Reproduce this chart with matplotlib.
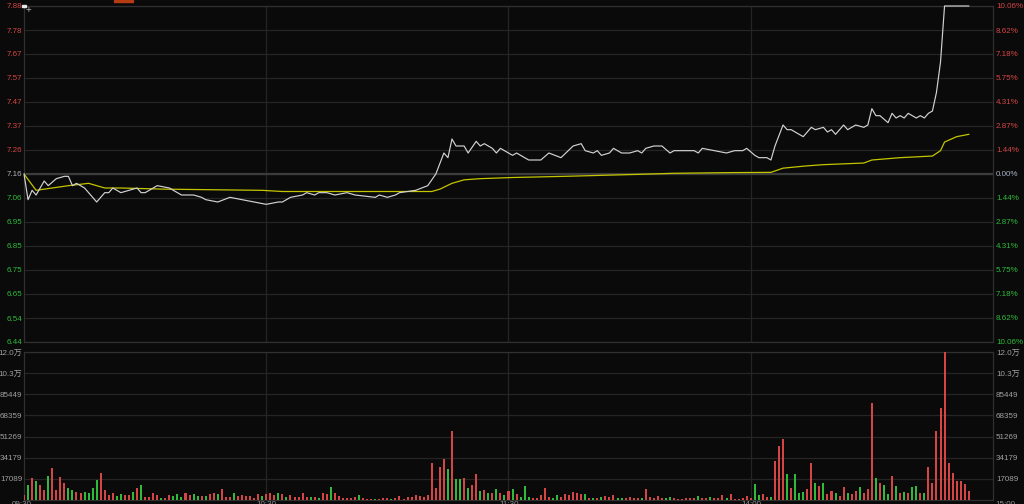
import matplotlib
matplotlib.use("Agg")
import matplotlib.pyplot as plt
from matplotlib.patches import Rectangle
import numpy as np

# previous close, price axis range
prev_close = 7.16
price_top = 7.88
price_bottom = 6.44

# price line (minute, price)
price_min = [0, 1, 2, 3, 5, 6, 8, 10, 11, 12, 13, 15, 18, 20, 21, 22, 24, 26, 28, 29,
             30, 32, 33, 36, 37, 39, 42, 44, 45, 48, 51, 54, 57, 60, 63, 64, 66, 69, 70, 72,
             73, 75, 77, 80, 82, 87, 88, 90, 92, 93, 97, 100, 102, 104, 105, 106, 107, 109, 110, 112,
             113, 114, 116, 117, 118, 120, 121, 122, 125, 128, 130, 133, 136, 138, 139, 141, 142, 143, 145, 146,
             148, 150, 152, 153, 154, 156, 158, 160, 161, 166, 167, 168, 171, 174, 176, 178, 179, 181, 182, 184,
             185, 186, 188, 189, 190, 191, 193, 195, 196, 198, 199, 200, 201, 203, 204, 206, 208, 209, 210, 211,
             212, 214, 215, 216, 217, 218, 219, 221, 222, 223, 224, 225, 226, 227, 228, 234]
price_val = [7.16, 7.05, 7.09, 7.07, 7.13, 7.11, 7.14, 7.15, 7.15, 7.11, 7.12, 7.10, 7.04, 7.08, 7.08, 7.10, 7.08, 7.09, 7.10, 7.08,
             7.08, 7.10, 7.11, 7.10, 7.09, 7.07, 7.07, 7.06, 7.05, 7.04, 7.06, 7.05, 7.04, 7.03, 7.04, 7.04, 7.06, 7.07, 7.08, 7.07,
             7.08, 7.08, 7.07, 7.08, 7.07, 7.06, 7.07, 7.06, 7.07, 7.08, 7.09, 7.11, 7.16, 7.25, 7.23, 7.31, 7.28, 7.28, 7.25, 7.30,
             7.28, 7.29, 7.27, 7.25, 7.27, 7.25, 7.24, 7.25, 7.22, 7.22, 7.25, 7.23, 7.28, 7.29, 7.26, 7.25, 7.26, 7.24, 7.25, 7.27,
             7.25, 7.25, 7.26, 7.25, 7.27, 7.28, 7.28, 7.25, 7.26, 7.26, 7.25, 7.27, 7.26, 7.25, 7.26, 7.26, 7.27, 7.24, 7.23, 7.23,
             7.22, 7.28, 7.37, 7.35, 7.35, 7.34, 7.32, 7.36, 7.35, 7.36, 7.34, 7.35, 7.33, 7.37, 7.35, 7.37, 7.36, 7.37, 7.44, 7.41,
             7.41, 7.38, 7.42, 7.40, 7.41, 7.40, 7.42, 7.40, 7.41, 7.40, 7.42, 7.43, 7.51, 7.64, 7.88, 7.88]

# average price line
avg_min = [0, 3, 7, 11, 16, 20, 24, 35, 59, 64, 97, 101, 103, 106, 109, 113, 121, 134, 151, 161,
           175, 185, 188, 194, 198, 208, 210, 217, 225, 227, 228, 231, 234]
avg_val = [7.16, 7.09, 7.10, 7.11, 7.12, 7.10, 7.10, 7.095, 7.09, 7.085, 7.085, 7.085, 7.095, 7.12, 7.135, 7.14, 7.145, 7.15, 7.158, 7.163,
           7.166, 7.167, 7.185, 7.195, 7.20, 7.207, 7.22, 7.23, 7.237, 7.26, 7.297, 7.32, 7.33]

# per-minute volume, minutes 0..234
vol = [4000, 12000, 17500, 15400, 12100, 8100, 19400, 25900, 8100, 18600,
       13700, 9700, 8100, 6500, 5700, 6500, 5700, 9700, 16200, 21800,
       8100, 4000, 5700, 3200, 4800, 4000, 4000, 6500, 9700, 12100,
       2400, 2400, 5700, 4000, 1600, 1600, 4000, 3200, 4800, 2400,
       5700, 4000, 4800, 3200, 3200, 3200, 4800, 5700, 4800, 8900,
       2400, 2400, 5700, 3200, 4000, 3200, 3200, 1600, 4800, 3200,
       4800, 5700, 4000, 5700, 4800, 2400, 4000, 2400, 2400, 5700,
       2400, 2400, 2400, 1600, 5700, 4800, 10500, 5700, 3200, 1600,
       1600, 1600, 2400, 4000, 1600, 1200, 1200, 1200, 1200, 1600,
       1600, 1200, 1600, 3200, 1200, 2400, 2400, 4000, 3200, 2400,
       4000, 29900, 9700, 26700, 33100, 25100, 55800, 17000, 17000, 17800,
       9700, 12100, 21000, 7300, 8100, 5700, 5700, 8900, 5700, 4000,
       7300, 8900, 4800, 2400, 11300, 2400, 1600, 1600, 4000, 9700,
       2400, 1600, 4000, 2400, 4800, 4000, 6500, 5700, 4800, 4800,
       1600, 1600, 1600, 2400, 3200, 2400, 4000, 1600, 1600, 1600,
       2400, 1600, 1600, 1600, 8900, 2400, 1600, 3200, 1600, 1600,
       2400, 1600, 800, 800, 1600, 1600, 1600, 3200, 1600, 1600,
       2400, 1600, 1600, 4000, 1600, 4800, 800, 800, 1600, 3200,
       1600, 12900, 4000, 4800, 2400, 2400, 31500, 43600, 49300, 21000,
       9700, 21000, 5700, 6500, 8900, 29900, 13700, 11300, 13700, 4800,
       7300, 5700, 3200, 10500, 5700, 4800, 7300, 10500, 5700, 8900,
       78400, 17800, 13700, 12100, 4800, 19400, 11300, 5700, 6500, 5700,
       10500, 11300, 5700, 5700, 26700, 13700, 55800, 74400, 119626, 29900,
       21800, 15400, 15400, 12900, 7300]
# r = up minute, g = down minute
vol_dir = ("rgrgrrgrrr" "rggrrggggr" "rrrggrrgrg" "rrrrgrrggg" "rrggrgrrgr"
           "rrgrrrrrrg" "rrrgrgrrrr" "rgrgrrgrrr" "rrrgrrrgrr" "rgrrrrrrrr"
           "rrrrrgrggr" "grrgrgrgrg" "rgrgggrrrr" "rggrrrrrrg" "rgrgrrrggr"
           "rrrgrrrrrg" "grrrrrrgrr" "grrrgrrrrr" "rggrrgrrrg" "rgggrrgrgr"
           "rgrrgrrgrr" "rgrggrgrgr" "ggrgrrrrrr" "rrrrr")

price_labels = ["7.88", "7.78", "7.67", "7.57", "7.47", "7.37", "7.26", "7.16",
                "7.06", "6.95", "6.85", "6.75", "6.65", "6.54", "6.44"]
pct_labels = ["10.06%", "8.62%", "7.18%", "5.75%", "4.31%", "2.87%", "1.44%", "0.00%",
              "1.44%", "2.87%", "4.31%", "5.75%", "7.18%", "8.62%", "10.06%"]
vol_labels = ["12.0万", "10.3万", "85449", "68359", "51269", "34179", "17089"]
vol_step = 17089.4
time_labels = ["09:30", "10:30", "11:30", "14:00", "15:00"]

BG = "#0a0a0a"
GRID = "#252525"
RED = "#d64545"
GREEN = "#2fba3a"
FONT = ["Liberation Sans", "Noto Sans CJK SC", "DejaVu Sans"]
FS = 5.8

fig = plt.figure(figsize=(10.24, 5.04), dpi=100, facecolor=BG)
left = 24 / 1024
width = (993 - 24) / 1024
ax_p = fig.add_axes([left, (504 - 342) / 504, width, 336 / 504], facecolor=BG)
ax_v = fig.add_axes([left, 4 / 504, width, 148 / 504], facecolor=BG)

price_ticks = np.linspace(price_top, price_bottom, 15)
vol_ticks = vol_step * np.arange(7, 0, -1)

for ax in (ax_p, ax_v):
    ax.set_xlim(0, 240)
    ax.set_xticks([60, 120, 180])
    ax.grid(True, color=GRID, linewidth=0.9)
    ax.tick_params(axis="x", length=0, labelbottom=False)
    ax.tick_params(axis="y", length=0, pad=1.2)
    for sp in ax.spines.values():
        sp.set_color("#303030")
        sp.set_linewidth(0.9)
    ax.set_axisbelow(True)

# price panel
ax_p.set_ylim(price_bottom, price_top)
ax_p.set_yticks(price_ticks)
ax_p.set_yticklabels(price_labels, family=FONT, fontsize=FS)
ax_p.axhline(prev_close, color="#3c3c3c", linewidth=1.6, zorder=1)
ax_p.plot(avg_min, avg_val, color="#c4c400", linewidth=0.9, zorder=3)
ax_p.plot(price_min, price_val, color="#d2d2d2", linewidth=0.85, zorder=4, clip_on=False)

ax_pr = ax_p.twinx()
ax_pr.set_ylim(price_bottom, price_top)
ax_pr.set_yticks(price_ticks)
ax_pr.set_yticklabels(pct_labels, family=FONT, fontsize=FS)
ax_pr.tick_params(axis="y", length=0, pad=2.2)
for sp in ax_pr.spines.values():
    sp.set_visible(False)

for i, (tl, tr) in enumerate(zip(ax_p.get_yticklabels(), ax_pr.get_yticklabels())):
    if i < 7:
        tl.set_color(RED)
        tr.set_color(RED)
    elif i == 7:
        tl.set_color("#b4b4b4")
        tr.set_color("#a8b2c4")
    else:
        tl.set_color(GREEN)
        tr.set_color(GREEN)

# volume panel
minutes = np.arange(len(vol))
colors = [RED if d == "r" else GREEN for d in vol_dir]
ax_v.bar(minutes, vol, width=0.5, color=colors, linewidth=0, zorder=3,
         antialiased=False)
ax_v.set_ylim(0, vol_ticks[0])
ax_v.set_yticks(vol_ticks)
ax_v.set_yticklabels(vol_labels, family=FONT, fontsize=FS, color="#a0a0a0")

ax_vr = ax_v.twinx()
ax_vr.set_ylim(0, vol_ticks[0])
ax_vr.set_yticks(vol_ticks)
ax_vr.set_yticklabels(vol_labels, family=FONT, fontsize=FS, color="#a0a0a0")
ax_vr.tick_params(axis="y", length=0, pad=2.2)
for sp in ax_vr.spines.values():
    sp.set_visible(False)

# time labels, mostly cut off by the bottom edge as in the original screen grab
for t, xp in zip(time_labels, [22, 266, 509, 751, 1005]):
    fig.text(xp / 1024, 3.2 / 504, t, ha="center", va="top", family=FONT,
             fontsize=FS, color="#909090")

# small UI bits at top left
fig.patches.append(Rectangle((114 / 1024, 502 / 504), 19 / 1024, 2 / 504,
                             transform=fig.transFigure, color="#b43c12"))
fig.patches.append(Rectangle((22 / 1024, 497 / 504), 4 / 1024, 2.5 / 504,
                             transform=fig.transFigure, color="#e8e8e8"))
fig.text(28.5 / 1024, 493.5 / 504, "+", ha="center", va="center", fontsize=7,
         color="#b0b0b0", family=FONT)

fig.savefig("out.png", dpi=100, facecolor=BG)
